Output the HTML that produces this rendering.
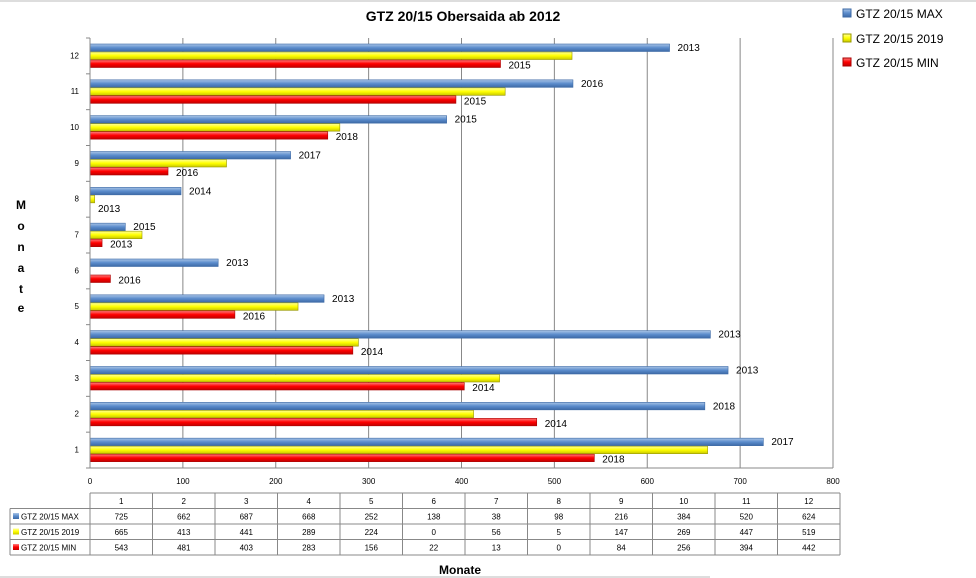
<!DOCTYPE html>
<html><head><meta charset="utf-8">
<style>
body{margin:0;background:#fff;}
svg{display:block;font-family:"Liberation Sans",sans-serif;}
</style></head>
<body>
<svg id="c" width="976" height="578" viewBox="0 0 976 578" xmlns="http://www.w3.org/2000/svg">
<defs>
<linearGradient id="gB" x1="0" y1="0" x2="0" y2="1"><stop offset="0" stop-color="#a9c4e6"/><stop offset="0.5" stop-color="#5b8ccc"/><stop offset="1" stop-color="#3d6aa6"/></linearGradient>
<linearGradient id="gY" x1="0" y1="0" x2="0" y2="1"><stop offset="0" stop-color="#ffff99"/><stop offset="0.5" stop-color="#ffff00"/><stop offset="1" stop-color="#c8c800"/></linearGradient>
<linearGradient id="gR" x1="0" y1="0" x2="0" y2="1"><stop offset="0" stop-color="#ff8080"/><stop offset="0.5" stop-color="#ff0000"/><stop offset="1" stop-color="#c00000"/></linearGradient>
</defs>
<line x1="0" y1="1" x2="976" y2="1" stroke="#bbb"/>
<text x="463" y="21" font-size="14" font-weight="bold" text-anchor="middle">GTZ 20/15 Obersaida ab 2012</text>
<g id="grid"></g><g id="bars"></g><g id="labels"></g><g id="axes"></g><g id="table"></g>
<g>
<rect x="843" y="9" width="8" height="8" fill="url(#gB)" stroke="#3d6aa6"/>
<text x="856" y="18" font-size="12">GTZ 20/15 MAX</text>
<rect x="843" y="34" width="8" height="8" fill="url(#gY)" stroke="#999900"/>
<text x="856" y="43" font-size="12">GTZ 20/15 2019</text>
<rect x="843" y="58" width="8" height="8" fill="url(#gR)" stroke="#a00"/>
<text x="856" y="67" font-size="12">GTZ 20/15 MIN</text>
</g>
<g font-size="12" font-weight="bold" text-anchor="middle">
<text x="21" y="209">M</text><text x="21" y="230">o</text><text x="21" y="251">n</text><text x="21" y="272">a</text><text x="21" y="293">t</text><text x="21" y="312">e</text>
</g>
<text x="460" y="574" font-size="12" font-weight="bold" text-anchor="middle">Monate</text>
<line x1="0" y1="577" x2="710" y2="577" stroke="#bbb"/>
</svg>
<script>
const months=[1,2,3,4,5,6,7,8,9,10,11,12];
const maxVals=[725,662,687,668,252,138,38,98,216,384,520,624];
const y2019Vals=[665,413,441,289,224,0,56,5,147,269,447,519];
const minVals=[543,481,403,283,156,22,13,0,84,256,394,442];
const maxYears=[2017,2018,2013,2013,2013,2013,2015,2014,2017,2015,2016,2013];
const minYears=[2018,2014,2014,2014,2016,2016,2013,2013,2016,2018,2015,2015];
const xTicks=[0,100,200,300,400,500,600,700,800];
const seriesNames=["GTZ 20/15 MAX","GTZ 20/15 2019","GTZ 20/15 MIN"];

const NS="http://www.w3.org/2000/svg";
const X0=90,X1=833,XMAX=800,TOP=38,BOT=468;
const gh=(BOT-TOP)/months.length;
const xs=v=>X0+v/XMAX*(X1-X0);
const gTop=i=>TOP+(months.length-1-i)*gh;
function mk(tag,attrs,parent,txt){const e=document.createElementNS(NS,tag);for(const k in attrs)e.setAttribute(k,attrs[k]);if(txt!==undefined)e.textContent=txt;parent.appendChild(e);return e;}
const grid=document.getElementById('grid'),bars=document.getElementById('bars'),labels=document.getElementById('labels'),axes=document.getElementById('axes'),table=document.getElementById('table');

xTicks.forEach(t=>{
 if(t>0){const l=mk('line',{x1:xs(t),y1:TOP,x2:xs(t),y2:BOT,stroke:'#888','stroke-width':1},grid);
 
 }
 const tx=mk('text',{x:xs(t),y:BOT+16,'font-size':8,'text-anchor':'middle'},axes,String(t));
 
 
});
const ax=mk('line',{x1:X0,y1:BOT,x2:X1,y2:BOT,stroke:'#888'},axes);


const ay=mk('line',{x1:X0,y1:TOP,x2:X0,y2:BOT,stroke:'#888'},axes);


for(let i=0;i<=months.length;i++){const y=TOP+i*gh;mk('line',{x1:X0-4,y1:y,x2:X0,y2:y,stroke:'#888'},axes);}

const series=[[maxVals,'url(#gB)','#3d6aa6','max'],[y2019Vals,'url(#gY)','#999900','2019'],[minVals,'url(#gR)','#a00','min']];
const BH=7.5;
months.forEach((m,i)=>{
 const top=gTop(i)+6;
 const yl=mk('text',{x:X0-11,y:top+BH*1.5+3,'font-size':8,'text-anchor':'end'},axes,String(m));
 
 
 series.forEach((s,k)=>{
  const v=s[0][i];const y=top+k*(BH+0.5);
  if(v>0){const r=mk('rect',{x:X0,y:y,width:xs(v)-X0,height:BH,fill:s[1],stroke:s[2],'stroke-width':0.6},bars);
  
  }
 });
 const l1=mk('text',{x:xs(maxVals[i])+8,y:top+BH-0.5,'font-size':10},labels,String(maxYears[i]));
 
 
 const l2=mk('text',{x:xs(minVals[i])+8,y:top+2*(BH+0.5)+BH+1,'font-size':10},labels,String(minYears[i]));
 
 
});

// data table
const TL=10,TC=90,TR=840,cw=(TR-TC)/12,rows=[493,508.5,524,539.5,555];
mk('line',{x1:TC,y1:rows[0],x2:TR,y2:rows[0],stroke:'#888'},table);
for(let r=1;r<rows.length;r++)mk('line',{x1:TL,y1:rows[r],x2:TR,y2:rows[r],stroke:'#888'},table);
mk('line',{x1:TL,y1:rows[1],x2:TL,y2:rows[4],stroke:'#888'},table);
for(let c=0;c<=12;c++)mk('line',{x1:TC+c*cw,y1:rows[0],x2:TC+c*cw,y2:rows[4],stroke:'#888'},table);
months.forEach((m,i)=>{const t=mk('text',{x:TC+(i+.5)*cw,y:rows[0]+11,'font-size':8,'text-anchor':'middle'},table,String(m));
 
 });
const sw=['url(#gB)','url(#gY)','url(#gR)'];
[maxVals,y2019Vals,minVals].forEach((arr,r)=>{
 mk('rect',{x:13,y:rows[r+1]+4.5,width:6,height:6,fill:sw[r]},table);
 const n=mk('text',{x:21,y:rows[r+1]+11,'font-size':8},table,seriesNames[r]);
 
 
 arr.forEach((v,i)=>{const t=mk('text',{x:TC+(i+.5)*cw,y:rows[r+1]+11,'font-size':8,'text-anchor':'middle'},table,String(v));
  
  });
});
</script>
</body></html>
